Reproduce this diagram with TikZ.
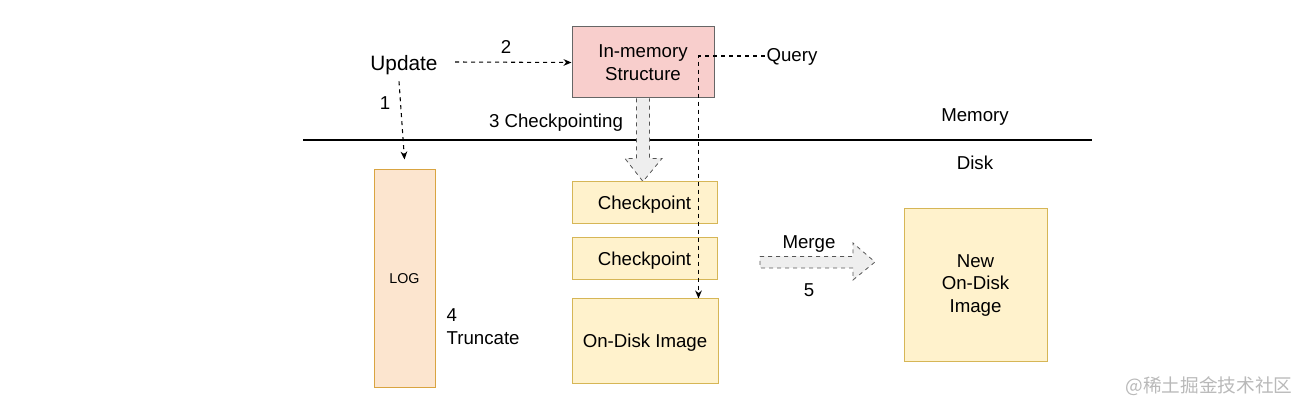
\documentclass[tikz,border=0pt]{standalone}
\usepackage{fontspec}
\setmainfont{Liberation Sans}
\newfontfamily\cjkfont{Noto Sans CJK SC}
\usetikzlibrary{arrows.meta,calc}
\definecolor{memfill}{HTML}{F8CECC}
\definecolor{memdraw}{HTML}{666666}
\definecolor{logfill}{HTML}{FCE5CF}
\definecolor{logdraw}{HTML}{D9A441}
\definecolor{ylwfill}{HTML}{FFF2CC}
\definecolor{ylwdraw}{HTML}{D6B656}
\definecolor{blkfill}{HTML}{EEEEEE}
\definecolor{blkdraw}{HTML}{555555}
\tikzset{
  box/.style={draw, line width=0.75pt, inner sep=0pt, align=center, font=\fontsize{14}{17.2}\selectfont},
  membox/.style={box, fill=memfill, draw=memdraw},
  logbox/.style={box, fill=logfill, draw=logdraw},
  ylwbox/.style={box, fill=ylwfill, draw=ylwdraw},
  lbl/.style={inner sep=1pt, align=center, font=\fontsize{14}{17.2}\selectfont},
  dashline/.style={line width=0.8pt, dash pattern=on 3pt off 3pt},
  dasharrow/.style={dashline, -{Stealth[length=6pt,width=5pt]}},
  blockarrow/.style={fill=blkfill, draw=blkdraw, line width=0.6pt, dash pattern=on 3pt off 3pt}
}
\begin{document}
\begin{tikzpicture}[x=0.75pt,y=-0.75pt]
\useasboundingbox (0,0) rectangle (1304,409);

% nodes
\node[membox, minimum width=106.5pt, minimum height=53.25pt] (mem) at (643,62.5) {In-memory\\Structure};
\node[logbox, minimum width=45.75pt, minimum height=163.5pt, font=\fontsize{10.7}{13}\selectfont] (log) at (404.5,279) {LOG};
\node[ylwbox, minimum width=108.75pt, minimum height=31.5pt, text depth=0.5pt] (cp1) at (644.5,203) {Checkpoint};
\node[ylwbox, minimum width=108.75pt, minimum height=31.5pt, text depth=0.5pt] (cp2) at (644.5,259) {Checkpoint};
\node[ylwbox, minimum width=109.5pt, minimum height=63.75pt, text depth=0.5pt] (disk) at (645,341.5) {On-Disk Image};
\node[ylwbox, minimum width=107.25pt, minimum height=114.75pt] (new) at (975.5,285.5) {New\\On-Disk\\Image};

\node[lbl, font=\fontsize{15.6}{18}\selectfont] (update) at (404,65) {Update};
\node[lbl] (query) at (792,57) {Query};
\node[lbl] (two) at (506,47) {2};
\node[lbl] (one) at (385,103) {1};
\node[lbl] (ckpt) at (556,123) {3 Checkpointing};
\node[lbl] (memory) at (975,117) {Memory};
\node[lbl] (disklbl) at (975,163) {Disk};
\node[lbl, anchor=west, align=left] (trunc) at (445,327) {4\\Truncate};
\node[lbl] (merge) at (809,244) {Merge};
\node[lbl] (five) at (809,290) {5};
\node[inner sep=0pt, text=gray!55, font=\cjkfont\fontsize{14}{16}\selectfont] (wm) at (1209,386) {@稀土掘金技术社区};

% memory / disk separator
\coordinate (sepL) at (303,140);
\coordinate (sepR) at (1092,140);
\draw[line width=1pt] (sepL) -- (sepR);

% connectors
\draw[dasharrow] ($(update.east)+(16,-3)$) -- (mem.west);
\draw[dasharrow] ($(update.south)+(-5,5)$) -- ($(log.north)+(0,-10)$);
\draw[dasharrow] ($(query.west)+(0,-1)$) -| ($(disk.north east)+(-20,0)$);

% checkpointing block arrow
\draw[blockarrow] ($(mem.south)+(-6.5,0)$) -- ($(mem.south)+(-6.5,60)$) -- ($(mem.south)+(-18,60)$)
  -- ($(cp1.north)+(-1.5,0)$) -- ($(mem.south)+(19,60)$) -- ($(mem.south)+(6.5,60)$) -- ($(mem.south)+(6.5,0)$);

% merge block arrow
\coordinate (mS) at (760,262);
\draw[blockarrow] ($(mS)+(0,-5.5)$) -- ($(mS)+(93,-5.5)$) -- ($(mS)+(93,-19)$) -- ($(mS)+(115,0)$)
  -- ($(mS)+(93,18)$) -- ($(mS)+(93,6)$) -- ($(mS)+(0,6)$) -- cycle;
\end{tikzpicture}
\end{document}
